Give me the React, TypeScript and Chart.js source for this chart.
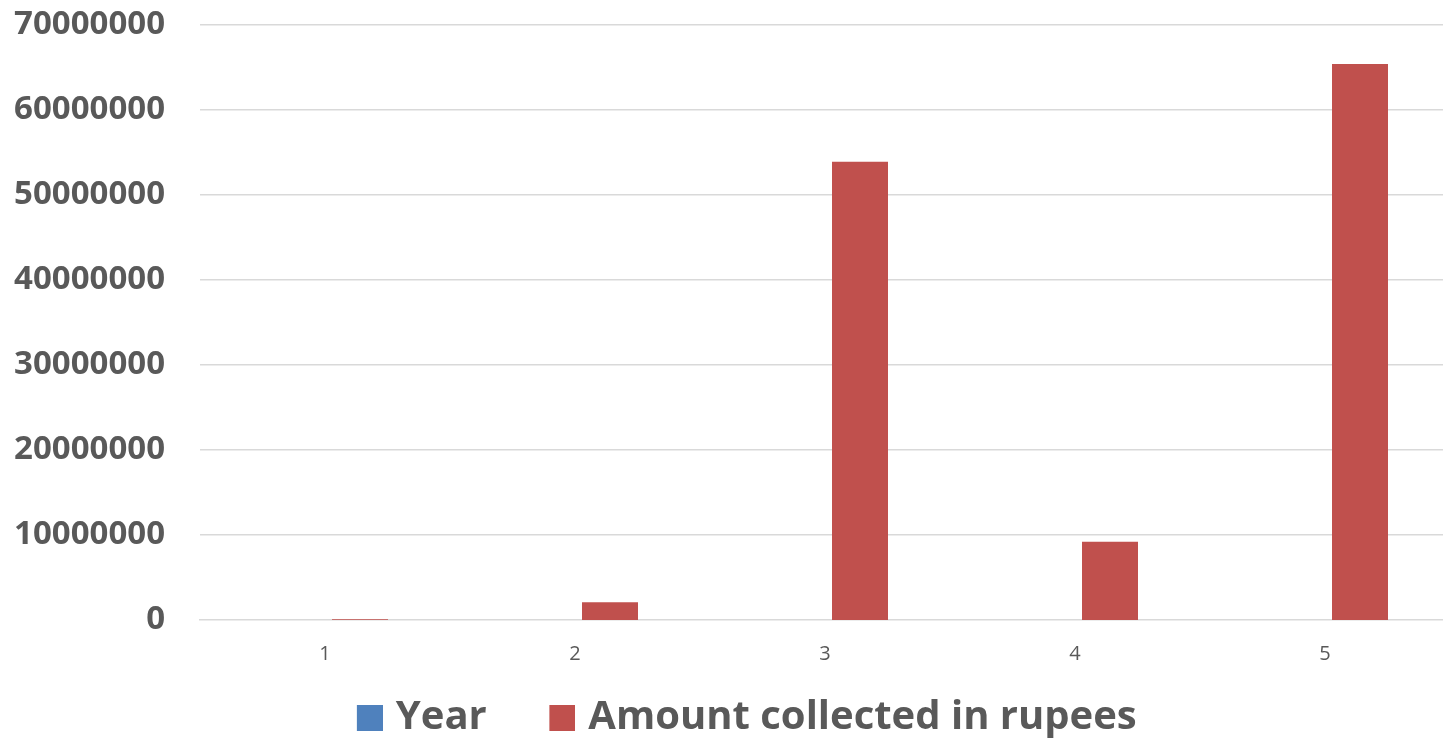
import React, { useEffect, useRef } from "react";
import { Chart, registerables } from "chart.js";

Chart.register(...registerables);

const categories = ["1", "2", "3", "4", "5"];
const seriesNames = ["Year", "Amount collected in rupees"];
const yearValues = [2010, 2011, 2012, 2013, 2014];
const amountValues = [100000, 2100000, 53900000, 9200000, 65400000];
const yTickStep = 10000000;
const yMax = 70000000;

const FONT = "'Open Sans', 'DejaVu Sans', sans-serif";
const TEXT = "#595959";
const GRID = "#D9D9D9";
const COLORS = ["#4F81BD", "#C0504D"];

function makeMarker(color: string) {
  const c = document.createElement("canvas");
  c.width = 40;
  c.height = 26;
  const ctx = c.getContext("2d")!;
  ctx.fillStyle = color;
  ctx.fillRect(14, 0, 26, 26);
  return c;
}

const legendShift = {
  id: "legendShift",
  beforeDraw(chart: any) {
    const lg = chart.legend;
    if (lg && !lg.__shifted) {
      const orig = lg.draw.bind(lg);
      lg.draw = (...args: any[]) => {
        const ctx = chart.ctx;
        ctx.save();
        ctx.translate(18.3, 0);
        orig(...args);
        ctx.restore();
      };
      lg.__shifted = true;
    }
  },
};

export default function App() {
  const ref = useRef<HTMLCanvasElement | null>(null);

  useEffect(() => {
    if (!ref.current) return;
    const markers = COLORS.map(makeMarker);
    const chart = new Chart(ref.current, {
      type: "bar",
      data: {
        labels: categories,
        datasets: [
          {
            label: seriesNames[0] + "    \u200A",
            data: yearValues,
            backgroundColor: COLORS[0],
            borderWidth: 0,
            inflateAmount: 0,
          },
          {
            label: seriesNames[1],
            data: amountValues,
            backgroundColor: COLORS[1],
            borderWidth: 0,
          },
        ],
      },
      plugins: [legendShift],
      options: {
        responsive: false,
        animation: false,
        devicePixelRatio: 1,
        layout: { padding: { top: 25, left: 0, right: 0, bottom: 0 } },
        datasets: {
          bar: { categoryPercentage: 0.56, barPercentage: 0.8 },
        },
        plugins: {
          tooltip: { enabled: false },
          legend: {
            position: "bottom",
            labels: {
              usePointStyle: true,
              pointStyleWidth: 26,
              boxWidth: 26,
              boxHeight: 26,
              padding: 10,
              color: TEXT,
              font: { family: FONT, size: 40, weight: "bold" },
              generateLabels: (c: any) => {
                const items = (Chart as any).defaults.plugins.legend.labels.generateLabels(c);
                items.forEach((it: any, i: number) => {
                  it.pointStyle = markers[i];
                });
                return items;
              },
            },
          },
        },
        scales: {
          x: {
            z: 1,
            grid: { display: false },
            border: { display: true, color: GRID, width: 1.5 },
            ticks: {
              color: TEXT,
              padding: 14,
              font: { family: FONT, size: 20 },
            },
            afterFit: (s: any) => {
              s.height = 68;
            },
          },
          y: {
            min: 0,
            max: yMax,
            grid: {
              color: GRID,
              lineWidth: (ctx: any) => (ctx.tick && ctx.tick.value === 0 ? 0 : 1.5),
              drawTicks: true,
              tickLength: 35,
              tickColor: "rgba(0,0,0,0)",
            },
            border: { display: false },
            ticks: {
              stepSize: yTickStep,
              color: TEXT,
              padding: 0,
              font: { family: FONT, size: 33, weight: "bold" },
              callback: (v: any) => String(v),
            },
            afterFit: (s: any) => {
              s.width = 200;
            },
          },
        },
      },
    });
    return () => chart.destroy();
  }, []);

  return (
    <div
      style={{
        position: "fixed",
        left: 0,
        top: 0,
        width: 1443,
        height: 738,
        overflow: "hidden",
        background: "#fff",
      }}
    >
      <canvas ref={ref} width={1450} height={748} style={{ display: "block" }} />
    </div>
  );
}
